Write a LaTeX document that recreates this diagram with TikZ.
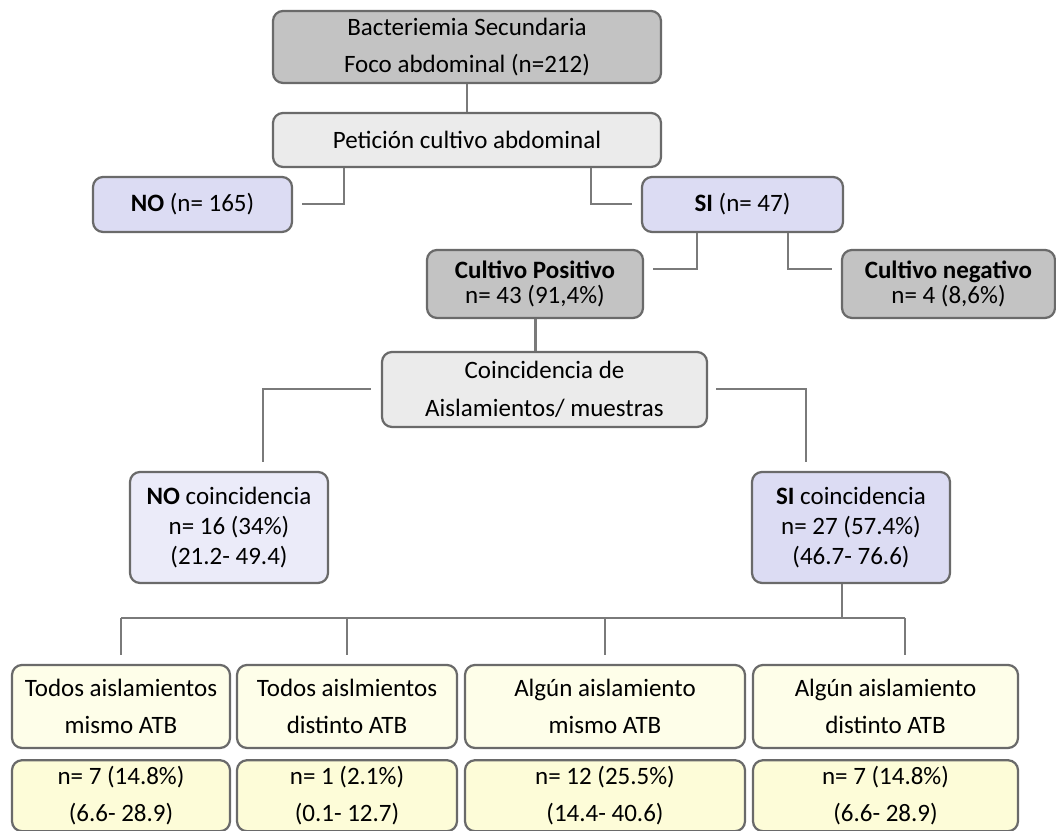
\documentclass[tikz,border=0pt]{standalone}
\usepackage{fontspec}
\setmainfont{Carlito}
\usepackage{tikz}
\usetikzlibrary{positioning}
\definecolor{boxline}{HTML}{6A6A6A}
\definecolor{linkline}{HTML}{7A7A7A}
\definecolor{darkfill}{HTML}{C3C3C3}
\definecolor{lightfill}{HTML}{EBEBEB}
\definecolor{lavender}{HTML}{DCDCF3}
\definecolor{palelavender}{HTML}{EBEBF9}
\definecolor{creamfill}{HTML}{FEFEE9}
\definecolor{yellowfill}{HTML}{FDFCD8}
\begin{document}
\begin{tikzpicture}
  [x=0.4pt,y=-0.4pt,
   basicbox/.style={draw=boxline,line width=0.9pt,rounded corners=4pt,inner sep=0pt,align=center,font=\fontsize{10}{15}\selectfont},
   greybox/.style={basicbox,fill=darkfill,minimum height=27.2pt,font=\fontsize{10}{10}\selectfont},
   lightbox/.style={basicbox,fill=lightfill},
   bluebox/.style={basicbox,fill=lavender},
   paleblue/.style={basicbox,fill=palelavender},
   creambox/.style={basicbox,fill=creamfill,minimum height=33.2pt},
   yellowbox/.style={basicbox,fill=yellowfill,minimum height=28.4pt},
   link/.style={draw=linkline,line width=0.8pt},
   gap/.style={shorten >=3.6pt}]
  \useasboundingbox (0,0) rectangle (1056,831);
  \node (topbox) at (467,47) [basicbox,fill=darkfill,minimum width=155.2pt,minimum height=28.8pt] {Bacteriemia Secundaria\\Foco abdominal (n=212)};
  \node (peticionbox) at (467,140) [lightbox,minimum width=155.2pt,minimum height=21.6pt] {Petición cultivo abdominal};
  \node (nobox) at (192.5,204.5) [bluebox,minimum width=79.6pt,minimum height=22pt] {\textbf{NO} (n= 165)};
  \node (sibox) at (742.5,204.5) [bluebox,minimum width=80.4pt,minimum height=22pt] {\textbf{SI} (n= 47)};
  \node (cultivopos) at (535,284) [greybox,minimum width=86.4pt] {\textbf{Cultivo Positivo}\\n= 43 (91,4\%)};
  \node (cultivoneg) at (948.5,284) [greybox,minimum width=85.2pt] {\textbf{Cultivo negativo}\\n= 4 (8,6\%)};
  \node (coincbox) at (544.5,389.5) [lightbox,minimum width=130pt,minimum height=30pt] {Coincidencia de\\Aislamientos/ muestras};
  \node (nocoinc) at (229,527.5) [paleblue,minimum width=79.2pt,minimum height=44.4pt,font=\fontsize{10}{12}\selectfont] {\textbf{NO} coincidencia\\n= 16 (34\%)\\(21.2- 49.4)};
  \node (sicoinc) at (851,527.5) [bluebox,minimum width=79.2pt,minimum height=44.4pt,font=\fontsize{10}{12}\selectfont] {\textbf{SI} coincidencia\\n= 27 (57.4\%)\\(46.7- 76.6)};
  \node (grupo0) at (121,706.5) [creambox,minimum width=87.2pt] {Todos aislamientos\\mismo ATB};
  \node (grupo1) at (347,706.5) [creambox,minimum width=88pt] {Todos aislmientos\\distinto ATB};
  \node (grupo2) at (605,706.5) [creambox,minimum width=112pt] {Algún aislamiento\\mismo ATB};
  \node (grupo3) at (885.5,706.5) [creambox,minimum width=106pt] {Algún aislamiento\\distinto ATB};
  \node (valor0) [yellowbox,below=4pt of grupo0,minimum width=87.2pt] {n= 7 (14.8\%)\\(6.6- 28.9)};
  \node (valor1) [yellowbox,below=4pt of grupo1,minimum width=88pt] {n= 1 (2.1\%)\\(0.1- 12.7)};
  \node (valor2) [yellowbox,below=4pt of grupo2,minimum width=112pt] {n= 12 (25.5\%)\\(14.4- 40.6)};
  \node (valor3) [yellowbox,below=4pt of grupo3,minimum width=106pt] {n= 7 (14.8\%)\\(6.6- 28.9)};
  \draw [link] (topbox.south) -- (peticionbox.north);
  \draw [link,gap] ([xshift=28.8pt]peticionbox.south west) |- (nobox.east);
  \draw [link,gap] ([xshift=-28.4pt]peticionbox.south east) |- (sibox.west);
  \draw [link,gap] ([xshift=22.4pt]sibox.south west) |- ([yshift=6pt]cultivopos.east);
  \draw [link,gap] ([xshift=-22.4pt]sibox.south east) |- ([yshift=6pt]cultivoneg.west);
  \draw [link,line width=1.2pt] (cultivopos.south) -- (cultivopos.south |- coincbox.north);
  \draw [link,gap,shorten <=4pt] (coincbox.west) -| ([xshift=13.6pt]nocoinc.north);
  \draw [link,gap,shorten <=3.2pt] (coincbox.east) -| ([xshift=-18pt]sicoinc.north);
  \coordinate (busline) at (0,618);
  \coordinate (drop3) at ([xshift=7.8pt]grupo3.north);
  \draw [link] ([xshift=-3.6pt]sicoinc.south) -- ([xshift=-3.6pt]sicoinc.south |- busline);
  \draw [link] (grupo0.north |- busline) -- (drop3 |- busline);
  \foreach \g in {grupo0,grupo1,grupo2}
    \draw [link,gap] (\g.north |- busline) -- (\g.north);
  \draw [link,gap] (drop3 |- busline) -- (drop3);
\end{tikzpicture}
\end{document}
